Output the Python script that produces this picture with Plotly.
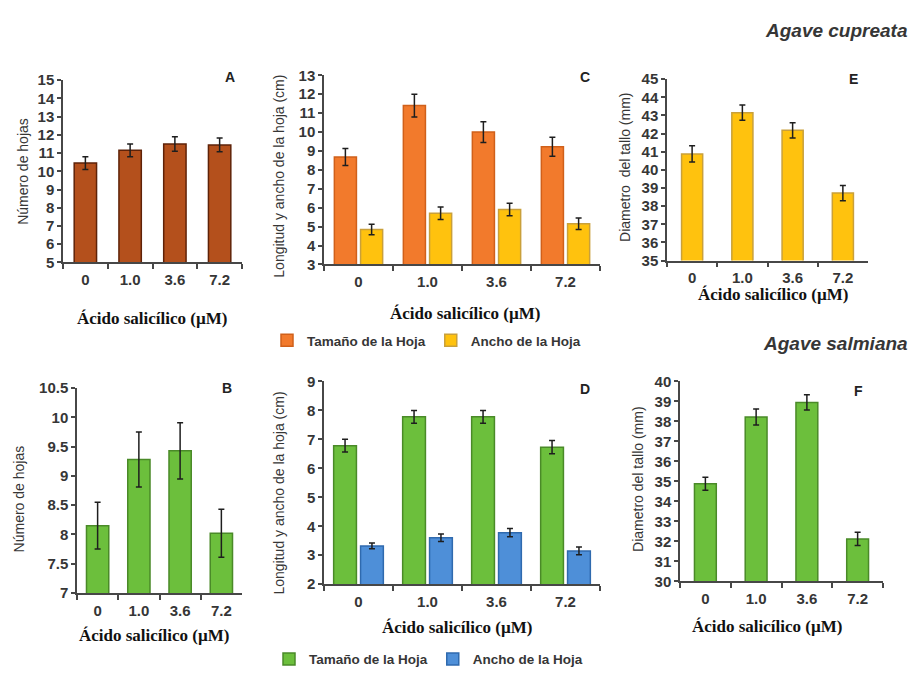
import plotly.graph_objects as go

# ---------------- data ----------------
doses = ["0", "1.0", "3.6", "7.2"]

# A - Agave cupreata: número de hojas
a_hojas = [10.45, 11.15, 11.5, 11.45]
a_hojas_err = [0.35, 0.35, 0.4, 0.38]

# C - Agave cupreata: longitud y ancho de la hoja (cm)
c_tamano = [8.68, 11.4, 10.0, 9.22]
c_tamano_err = [0.45, 0.6, 0.55, 0.5]
c_ancho = [4.85, 5.7, 5.9, 5.15]
c_ancho_err = [0.28, 0.33, 0.33, 0.3]

# E - Agave cupreata: diámetro del tallo (mm)
e_diam = [40.88, 43.15, 42.18, 38.72]
e_diam_err = [0.45, 0.42, 0.42, 0.42]

# B - Agave salmiana: número de hojas
b_hojas = [8.15, 9.28, 9.43, 8.02]
b_hojas_err = [0.4, 0.47, 0.48, 0.41]

# D - Agave salmiana: longitud y ancho de la hoja (cm)
d_tamano = [6.78, 7.78, 7.78, 6.73]
d_tamano_err = [0.22, 0.22, 0.22, 0.23]
d_ancho = [3.32, 3.6, 3.78, 3.15]
d_ancho_err = [0.1, 0.13, 0.14, 0.13]

# F - Agave salmiana: diámetro del tallo (mm)
f_diam = [34.88, 38.22, 38.95, 32.12]
f_diam_err = [0.33, 0.4, 0.38, 0.33]

# tick labels
a_ticks = [5, 6, 7, 8, 9, 10, 11, 12, 13, 14, 15]
c_ticks = [3, 4, 5, 6, 7, 8, 9, 10, 11, 12, 13]
e_ticks = [35, 36, 37, 38, 39, 40, 41, 42, 43, 44, 45]
b_ticks = [7, 7.5, 8, 8.5, 9, 9.5, 10, 10.5]
b_ticktext = ["7", "7.5", "8", "8.5", "9", "9.5", "10", "10.5"]
d_ticks = [2, 3, 4, 5, 6, 7, 8, 9]
f_ticks = [30, 31, 32, 33, 34, 35, 36, 37, 38, 39, 40]

legend_names = ["Tamaño de la Hoja", "Ancho de la Hoja"]
x_title = "Ácido salicílico (µM)"

# ---------------- styles ----------------
W, H = 911, 678
SANS = "Liberation Sans, Arial, sans-serif"
SERIF = "Liberation Serif, Times New Roman, serif"
AXIS_COL = "#474747"
TXT_COL = "#363636"

BROWN, BROWN_E = "#B4501C", "#5E2208"
ORANGE, ORANGE_E = "#F27A2C", "#D0601A"
YELLOW, YELLOW_E = "#FFC20E", "#C9A03A"
GREEN, GREEN_E = "#6CBF3C", "#4A8A28"
BLUE, BLUE_E = "#4E8FD8", "#2F6AAE"


def px_x(a, b):
    return [a / W, b / W]


def px_y(top, bottom):
    return [1 - bottom / H, 1 - top / H]


def err(vals, col="#1e1e1e"):
    return dict(type="data", array=vals, color=col, thickness=1.5, width=3)


fig = go.Figure()


def bar(x, y, e, color, edge, xa, ya, width, offset=None, name=None, legend=None):
    kw = dict(
        x=x, y=y, error_y=err(e), width=width,
        marker=dict(color=color, line=dict(color=edge, width=1.5)),
        xaxis=xa, yaxis=ya, showlegend=legend is not None,
    )
    if offset is not None:
        kw["offset"] = offset
    if name:
        kw["name"] = name
    if legend:
        kw["legend"] = legend
    fig.add_trace(go.Bar(**kw))


# A
bar(doses, a_hojas, a_hojas_err, BROWN, BROWN_E, "x", "y", 0.5)
# C
bar(doses, c_tamano, c_tamano_err, ORANGE, ORANGE_E, "x2", "y2", 0.32, -0.35,
    legend_names[0], "legend")
bar(doses, c_ancho, c_ancho_err, YELLOW, YELLOW_E, "x2", "y2", 0.32, 0.03,
    legend_names[1], "legend")
# E
bar(doses, e_diam, e_diam_err, YELLOW, YELLOW_E, "x3", "y3", 0.42)
# B
bar(doses, b_hojas, b_hojas_err, GREEN, GREEN_E, "x4", "y4", 0.54)
# D
bar(doses, d_tamano, d_tamano_err, GREEN, GREEN_E, "x5", "y5", 0.33, -0.36,
    legend_names[0], "legend2")
bar(doses, d_ancho, d_ancho_err, BLUE, BLUE_E, "x5", "y5", 0.33, 0.03,
    legend_names[1], "legend2")
# F
bar(doses, f_diam, f_diam_err, GREEN, GREEN_E, "x6", "y6", 0.43)

tickfont = dict(family=SANS, size=15, color=TXT_COL, weight="bold")


def xaxis(dom, anchor):
    return dict(
        domain=dom, anchor=anchor, type="category", range=[-0.5, 3.5],
        showline=True, linecolor=AXIS_COL, linewidth=1.5,
        ticks="outside", ticklen=5, tickcolor=AXIS_COL, tickwidth=1.5,
        tickson="boundaries", showgrid=False, zeroline=False,
        tickfont=tickfont, ticklabelstandoff=3,
    )


def yaxis(dom, anchor, rng, tv, tt=None):
    return dict(
        domain=dom, anchor=anchor, range=rng,
        tickvals=tv, ticktext=tt if tt else [str(v) for v in tv],
        showline=True, linecolor=AXIS_COL, linewidth=1.5,
        ticks="outside", ticklen=4, tickcolor=AXIS_COL, tickwidth=1.5,
        showgrid=False, zeroline=False, tickfont=tickfont,
    )


legfont = dict(family=SANS, size=13.5, color=TXT_COL, weight="bold")
layout = dict(
    width=W, height=H, margin=dict(l=0, r=0, t=0, b=0),
    paper_bgcolor="white", plot_bgcolor="white",
    barmode="overlay", showlegend=True,
    xaxis=xaxis(px_x(63, 242), "y"),
    yaxis=yaxis(px_y(73, 260), "x", [5, 15], a_ticks),
    xaxis2=xaxis(px_x(324, 600), "y2"),
    yaxis2=yaxis(px_y(68, 262), "x2", [3, 13], c_ticks),
    xaxis3=xaxis(px_x(667, 868), "y3"),
    yaxis3=yaxis(px_y(72, 258), "x3", [35, 45], e_ticks),
    xaxis4=xaxis(px_x(77, 242), "y4"),
    yaxis4=yaxis(px_y(389, 599), "x4", [7, 10.5], b_ticks, b_ticktext),
    xaxis5=xaxis(px_x(324, 600), "y5"),
    yaxis5=yaxis(px_y(382, 590), "x5", [2, 9], d_ticks),
    xaxis6=xaxis(px_x(680, 883), "y6"),
    yaxis6=yaxis(px_y(382, 587), "x6", [30, 40], f_ticks),
    legend=dict(orientation="h", x=267 / W, y=1 - 340 / H, xanchor="left",
                yanchor="middle", font=legfont,
                bgcolor="rgba(0,0,0,0)", itemwidth=30, traceorder="normal"),
    legend2=dict(orientation="h", x=269 / W, y=1 - 667 / H, xanchor="left",
                 yanchor="middle", font=legfont,
                 bgcolor="rgba(0,0,0,0)", itemwidth=30, traceorder="normal"),
)
fig.update_layout(**layout)

ann = []


def text(x, y, s, size, family=SANS, angle=0, bold=False, italic=False,
         xanchor="center", color=TXT_COL):
    if bold:
        s = "<b>" + s + "</b>"
    if italic:
        s = "<i>" + s + "</i>"
    ann.append(dict(x=x / W, y=1 - y / H, xref="paper", yref="paper", text=s,
                    showarrow=False, textangle=angle, xanchor=xanchor,
                    yanchor="middle", font=dict(family=family, size=size, color=color)))


# y-axis titles
text(23, 167, "Número de hojas", 14, angle=-90)
text(279, 172, "Longitud y ancho de la hoja (cm)", 14, angle=-90)
text(625, 163, "Diametro  del tallo (mm)", 14, angle=-90)
text(19, 503, "Número de hojas", 14, angle=-90)
text(279, 497, "Longitud y ancho de la hoja (cm)", 14, angle=-90)
text(638, 483, "Diametro del tallo (mm)", 14, angle=-90)

# x-axis titles
for (xx, yy) in [(152, 317), (466, 312), (773, 293), (154, 643), (457, 634), (767, 633)]:
    text(xx, yy, x_title, 17, family=SERIF, bold=True, color="#111111")

# panel letters
for (xx, yy, s) in [(230, 70, "A"), (585, 70, "C"), (853, 72, "E"),
                    (227, 389, "B"), (585, 390, "D"), (858, 392, "F")]:
    text(xx, yy, s, 14, bold=True, color="#222222")

# species titles
text(910, 22, "Agave cupreata", 19, bold=True, italic=True, xanchor="right")
text(910, 343, "Agave salmiana", 19, bold=True, italic=True, xanchor="right")

fig.update_layout(annotations=ann)
fig.write_html("out.html")
